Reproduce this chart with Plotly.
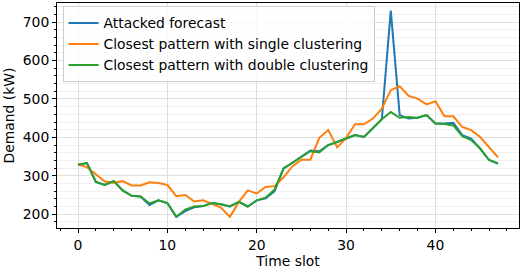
import plotly.graph_objects as go

time_slots = list(range(48))

attacked_forecast = [329, 333, 284, 276, 286, 262, 248, 246, 224, 236, 229, 193,
                     208, 218, 221, 229, 226, 220, 232, 220, 236, 241, 260, 319,
                     334, 350, 366, 364, 380, 388, 398, 406, 401, 425, 447, 730,
                     458, 449, 451, 458, 436, 436, 438, 406, 397, 371, 341, 332]

single_clustering = [330, 322, 304, 285, 282, 286, 275, 275, 283, 281, 276, 247,
                     250, 233, 236, 226, 217, 193, 232, 262, 254, 271, 273, 296,
                     325, 342, 342, 399, 419, 374, 398, 434, 434, 449, 475, 523,
                     533, 508, 501, 486, 494, 455, 455, 427, 419, 401, 375, 348]

double_clustering = [329, 333, 284, 276, 286, 262, 248, 246, 228, 236, 229, 193,
                     212, 220, 221, 229, 226, 220, 232, 220, 236, 243, 264, 319,
                     334, 349, 364, 361, 380, 388, 398, 406, 401, 425, 447, 466,
                     451, 453, 451, 458, 436, 435, 431, 403, 393, 371, 341, 332]

series_names = ["Attacked forecast", "Closest pattern with single clustering",
                "Closest pattern with double clustering"]
colors = ["#1f77b4", "#ff7f0e", "#2ca02c"]

fig = go.Figure()
for name, vals, c in zip(series_names,
                         [attacked_forecast, single_clustering, double_clustering],
                         colors):
    fig.add_trace(go.Scatter(x=time_slots, y=vals, mode="lines", name=name,
                             line=dict(color=c, width=2)))

FS = 13.9
font = dict(family="DejaVu Sans", size=FS, color="black")
fig.update_layout(
    width=520, height=269,
    margin=dict(l=57, r=1, t=3, b=41, autoexpand=False),
    plot_bgcolor="white", paper_bgcolor="white",
    font=font,
    showlegend=True,
    legend=dict(x=0.012, y=0.985, xanchor="left", yanchor="top",
                bgcolor="rgba(255,255,255,0.8)", bordercolor="#cccccc",
                borderwidth=1, font=dict(family="DejaVu Sans", size=FS),
                tracegroupgap=0, itemwidth=30),
    xaxis=dict(range=[-2.35, 49.35], tickvals=[0, 10, 20, 30, 40],
               showgrid=True, gridcolor="#dedede", gridwidth=1,
               ticks="outside", ticklen=4, tickcolor="black",
               showline=True, linecolor="black", linewidth=1, mirror=True,
               zeroline=False, automargin=False,
               tickfont=dict(family="DejaVu Sans", size=FS),
               minor=dict(dtick=2, ticks="outside", ticklen=2, tickcolor="black",
                          showgrid=False),
               title=dict(text="Time slot", standoff=2,
                          font=dict(family="DejaVu Sans", size=FS))),
    yaxis=dict(range=[164, 750], tickvals=[200, 300, 400, 500, 600, 700],
               showgrid=True, gridcolor="#dedede", gridwidth=1,
               ticks="outside", ticklen=4, tickcolor="black",
               showline=True, linecolor="black", linewidth=1, mirror=True,
               zeroline=False, automargin=False,
               tickfont=dict(family="DejaVu Sans", size=FS),
               minor=dict(dtick=20, tick0=0, ticks="outside", ticklen=2,
                          tickcolor="black", showgrid=True,
                          gridcolor="#efefef", gridwidth=1),
               title=dict(text="Demand (kW)", standoff=4,
                          font=dict(family="DejaVu Sans", size=FS))),
)

fig.write_html("out.html", config={"displayModeBar": False},
               post_script="document.body.style.margin='0';document.body.style.padding='0';")
